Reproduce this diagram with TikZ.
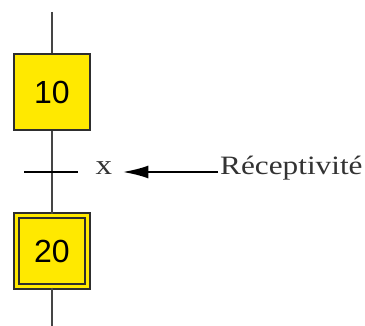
\documentclass[tikz,border=0pt]{standalone}
\usepackage{fontspec}
\usepackage{tikz}
\usetikzlibrary{arrows.meta,positioning}
\newfontfamily\grafsans{Liberation Sans}
\newfontfamily\grafserif{Liberation Serif}[FakeStretch=1.18]
\definecolor{stepfill}{HTML}{FFE900}
\definecolor{stepline}{HTML}{2E2E2E}
\definecolor{linkline}{HTML}{454545}
\tikzset{stepbox/.style={draw=stepline,fill=stepfill,line width=2.4pt,minimum size=76pt,inner sep=0pt,font=\grafsans\fontsize{32}{34}\selectfont},initbox/.style={stepbox,double=stepfill,double distance=3pt,line width=2.4pt,minimum size=71pt},linkwire/.style={draw=linkline,line width=2.2pt},recep/.style={font=\grafserif\fontsize{26.5}{30}\selectfont,text=black!80,inner sep=0pt}}

\begin{document}
\begin{tikzpicture}[x=1pt,y=-1pt]
\useasboundingbox[fill=white] (0,0) rectangle (365,326);
\coordinate (top) at (52,12);
\coordinate (bot) at (52,326);
\coordinate (t1) at (52,172);
\node[stepbox] (s10) at (52,92) {10};
\node[initbox] (s20) at (52,251) {20};
\draw[linkwire] (top)--(s10.north);
\draw[linkwire] (s10.south)--(s20.north);
\draw[linkwire] (s20.south)--(bot);
\draw[black,line width=2.2pt] ([xshift=-28pt]t1)--([xshift=26pt]t1);
\node[recep,anchor=mid,font=\grafserif\fontsize{28}{30}\selectfont,inner xsep=10pt] (lblx) at (104,172) {x};
\node[recep,anchor=mid west,inner xsep=2pt] (txt) at (218,172) {Réceptivité};
\draw[black,line width=2.4pt,-{Latex[length=26pt,width=13pt]}] (txt.mid west)--(lblx.mid east);
\end{tikzpicture}
\end{document}
